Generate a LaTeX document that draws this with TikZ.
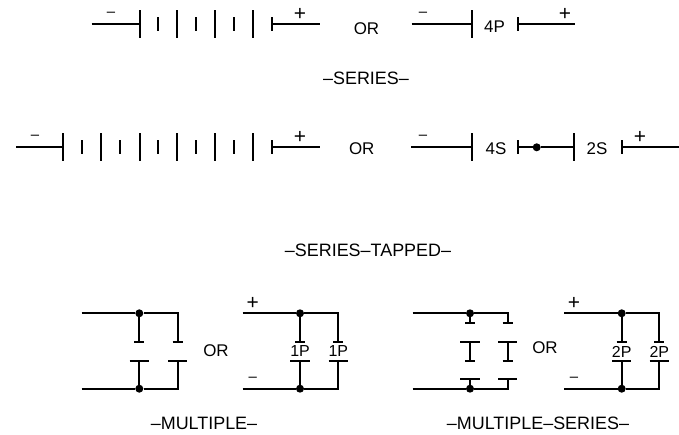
\documentclass[tikz,border=0pt]{standalone}
\usepackage{fontspec}
\setmainfont{Liberation Sans}
\tikzset{
  wire/.style={line width=1.7bp,black,line cap=butt},
  plate/.style={line width=1.7bp,black},
  junction/.style={circle,fill=black,inner sep=0pt,minimum size=8bp},
  lbl/.style={inner sep=0pt,font=\fontsize{17}{17}\selectfont},
  titlelbl/.style={inner sep=0pt,font=\fontsize{18}{18}\selectfont},
  smalllbl/.style={inner sep=0pt,font=\fontsize{16}{16}\selectfont},
  sign/.style={inner sep=0pt,font=\fontsize{21}{21}\selectfont},
  dashsign/.style={inner sep=0pt,font=\fontsize{15}{15}\selectfont},
}
% long and short vertical plates, centred on a height
\newcommand{\longplate}[2]{\draw[plate] (#1,#2-14.2) -- (#1,#2+14.2);}
\newcommand{\shortplate}[2]{\draw[plate] (#1,#2-7) -- (#1,#2+7);}
% long and short horizontal plates
\newcommand{\hlong}[2]{\draw[plate] (#1-9.7,#2) -- (#1+9.7,#2);}
\newcommand{\hshort}[2]{\draw[plate] (#1-5,#2) -- (#1+5,#2);}
\begin{document}
\begin{tikzpicture}[x=1bp,y=-1bp]
\useasboundingbox (0,0) rectangle (679,435);
% ---- SERIES
\coordinate (a1) at (91.7,24.3); \coordinate (a2) at (140,24.3);
\coordinate (a3) at (272,24.3);  \coordinate (a4) at (320,24.3);
\draw[wire] (a1) -- (a2); \draw[wire] (a3) -- (a4);
\foreach \x in {140,177,215,253} {\longplate{\x}{24.3}}
\foreach \x in {158,196,234,272} {\shortplate{\x}{24.3}}
\node[dashsign] (am) at (111,14.5) {–};
\node[sign] (ap) at (300,14.5) {+};
\node[lbl] (or1) at (366.5,28.5) {OR};
\coordinate (b1) at (411.5,24.3); \coordinate (b2) at (472,24.3);
\coordinate (b3) at (517.7,24.3); \coordinate (b4) at (575,24.3);
\draw[wire] (b1) -- (b2); \draw[wire] (b3) -- (b4);
\longplate{472}{24.3} \shortplate{517.7}{24.3}
\node[lbl] (p4) at (494.5,26.5) {4P};
\node[dashsign] (bm) at (423,14.5) {–};
\node[sign] (bp) at (565,14.5) {+};
\node[titlelbl] (t1) at (366,78) {–SERIES–};
% ---- SERIES-TAPPED
\coordinate (c1) at (16,147.3);  \coordinate (c2) at (63.3,147.3);
\coordinate (c3) at (272,147.3); \coordinate (c4) at (320,147.3);
\draw[wire] (c1) -- (c2); \draw[wire] (c3) -- (c4);
\foreach \x in {63.3,101.3,140,177.3,215,253} {\longplate{\x}{147.3}}
\foreach \x in {82.3,120.3,158,196,234,272} {\shortplate{\x}{147.3}}
\node[dashsign] (cm) at (35,137.5) {–};
\node[sign] (cp) at (300,137.5) {+};
\node[lbl] (or2) at (361.7,148.5) {OR};
\coordinate (d1) at (411,147.3);   \coordinate (d2) at (472,147.3);
\coordinate (d3) at (517.7,147.3); \coordinate (d4) at (574,147.3);
\coordinate (d5) at (621.7,147.3); \coordinate (d6) at (679,147.3);
\node[junction] (dj) at (536.7,147.3) {};
\draw[wire] (d1) -- (d2); \draw[wire] (d3) -- (dj) -- (d4); \draw[wire] (d5) -- (d6);
\longplate{472}{147.3} \shortplate{517.7}{147.3}
\longplate{574}{147.3} \shortplate{621.7}{147.3}
\node[lbl] (s4) at (496,148.5) {4S};
\node[lbl] (s2) at (597,148.5) {2S};
\node[dashsign] (dm) at (423,137.5) {–};
\node[sign] (dp) at (640,137.5) {+};
\node[titlelbl] (t2) at (368,250) {–SERIES–TAPPED–};
% ---- MULTIPLE
\coordinate (e1) at (81.7,313.3);  \coordinate (e2) at (177.7,313.3);
\coordinate (e3) at (81.7,388.7);  \coordinate (e4) at (177.7,388.7);
\coordinate (e5) at (139.3,341.7); \coordinate (e6) at (177.7,341.7);
\coordinate (e7) at (139.3,360.7); \coordinate (e8) at (177.7,360.7);
\node[junction] (ej1) at (139.3,313.3) {};
\node[junction] (ej2) at (139.3,388.7) {};
\draw[wire] (e1) -- (ej1) -- (e2) -- (e6);
\draw[wire] (e3) -- (ej2) -- (e4) -- (e8);
\draw[wire] (ej1) -- (e5); \draw[wire] (ej2) -- (e7);
\hshort{139.3}{341.7} \hshort{177.7}{341.7}
\hlong{139.3}{360.7} \hlong{177.7}{360.7}
\node[lbl] (or3) at (216,350.7) {OR};
\coordinate (f1) at (242.7,313.3); \coordinate (f2) at (338.3,313.3);
\coordinate (f3) at (242.7,388.7); \coordinate (f4) at (338.3,388.7);
\coordinate (f5) at (300,341.7);   \coordinate (f6) at (338.3,341.7);
\coordinate (f7) at (300,360.7);   \coordinate (f8) at (338.3,360.7);
\node[junction] (fj1) at (300,313.3) {};
\node[junction] (fj2) at (300,388.7) {};
\draw[wire] (f1) -- (fj1) -- (f2) -- (f6);
\draw[wire] (f3) -- (fj2) -- (f4) -- (f8);
\draw[wire] (fj1) -- (f5); \draw[wire] (fj2) -- (f7);
\hshort{300}{341.7} \hshort{338.3}{341.7}
\hlong{300}{360.7} \hlong{338.3}{360.7}
\node[smalllbl] (q1) at (300,351.5) {1P};
\node[smalllbl] (q2) at (338.3,351.5) {1P};
\node[sign] (fp) at (252.7,303.5) {+};
\node[dashsign] (fm) at (252.7,379) {–};
\node[titlelbl] (t3) at (204,423.5) {–MULTIPLE–};
% ---- MULTIPLE-SERIES
\coordinate (g1) at (412.7,313.3); \coordinate (g2) at (507.7,313.3);
\coordinate (g3) at (412.7,388.7); \coordinate (g4) at (507.7,388.7);
\coordinate (g5) at (470,322.7);   \coordinate (g6) at (507.7,322.7);
\coordinate (g7) at (470,379.3);   \coordinate (g8) at (507.7,379.3);
\coordinate (g9) at (470,341.7);   \coordinate (g10) at (470,360.7);
\coordinate (g11) at (507.7,341.7);\coordinate (g12) at (507.7,360.7);
\node[junction] (gj1) at (470,313.3) {};
\node[junction] (gj2) at (470,388.7) {};
\draw[wire] (g1) -- (gj1) -- (g2) -- (g6);
\draw[wire] (g3) -- (gj2) -- (g4) -- (g8);
\draw[wire] (gj1) -- (g5); \draw[wire] (gj2) -- (g7);
\draw[wire] (g9) -- (g10); \draw[wire] (g11) -- (g12);
\hshort{470}{322.7} \hshort{507.7}{322.7}
\hlong{470}{341.7} \hlong{507.7}{341.7}
\hshort{470}{360.7} \hshort{507.7}{360.7}
\hlong{470}{379.3} \hlong{507.7}{379.3}
\node[lbl] (or4) at (545,348) {OR};
\coordinate (h1) at (564.3,313.3); \coordinate (h2) at (659.3,313.3);
\coordinate (h3) at (564.3,388.7); \coordinate (h4) at (659.3,388.7);
\coordinate (h5) at (621.7,341.7); \coordinate (h6) at (659.3,341.7);
\coordinate (h7) at (621.7,360.7); \coordinate (h8) at (659.3,360.7);
\node[junction] (hj1) at (621.7,313.3) {};
\node[junction] (hj2) at (621.7,388.7) {};
\draw[wire] (h1) -- (hj1) -- (h2) -- (h6);
\draw[wire] (h3) -- (hj2) -- (h4) -- (h8);
\draw[wire] (hj1) -- (h5); \draw[wire] (hj2) -- (h7);
\hshort{621.7}{341.7} \hshort{659.3}{341.7}
\hlong{621.7}{360.7} \hlong{659.3}{360.7}
\node[smalllbl] (r1) at (621.7,351.5) {2P};
\node[smalllbl] (r2) at (659.3,351.5) {2P};
\node[sign] (hp) at (574,303.5) {+};
\node[dashsign] (hm) at (574,379) {–};
\node[titlelbl] (t4) at (538,423.5) {–MULTIPLE–SERIES–};
\end{tikzpicture}
\end{document}
